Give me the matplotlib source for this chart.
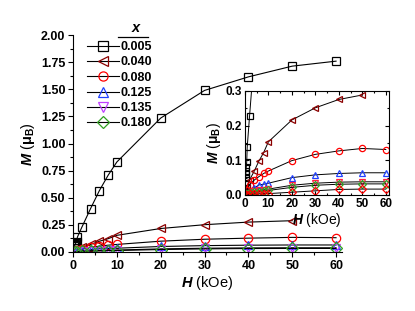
import numpy as np
import matplotlib
matplotlib.use('Agg')
from matplotlib import pyplot as plt
from matplotlib.ticker import MultipleLocator

plt.rcParams['font.family'] = ['Liberation Sans', 'DejaVu Sans']
plt.rcParams['font.weight'] = 'bold'
plt.rcParams['mathtext.fontset'] = 'custom'
plt.rcParams['mathtext.it'] = 'Liberation Sans:bold:italic'
plt.rcParams['mathtext.rm'] = 'Liberation Sans:bold'

labels = ['0.005', '0.040', '0.080', '0.125', '0.135', '0.180']

H_005 = [0.1, 0.2, 0.3, 0.4, 0.5, 0.6, 0.8, 1, 2, 4, 6, 8, 10, 20, 30, 40, 50, 60]
M_005 = [0.02, 0.035, 0.05, 0.06, 0.07, 0.08, 0.095, 0.137, 0.227, 0.40, 0.565,
         0.707, 0.83, 1.235, 1.49, 1.615, 1.714, 1.76]

H_040 = [0.2, 0.5, 1, 2, 4, 6, 8, 10, 20, 30, 40, 50]
M_040 = [0.005, 0.012, 0.022, 0.043, 0.069, 0.098, 0.122, 0.153, 0.216, 0.251, 0.275, 0.288]

H_std = [0.5, 1, 2, 4, 6, 8, 10, 20, 30, 40, 50, 60]
M_080 = [0.007, 0.015, 0.03, 0.043, 0.053, 0.062, 0.069, 0.099, 0.117, 0.127, 0.134, 0.131]
M_125 = [0.003, 0.006, 0.01, 0.02, 0.029, 0.031, 0.034, 0.05, 0.058, 0.062, 0.064, 0.064]
M_135 = [0.002, 0.004, 0.007, 0.011, 0.013, 0.015, 0.017, 0.028, 0.034, 0.037, 0.038, 0.038]
M_180 = [0.001, 0.003, 0.005, 0.008, 0.01, 0.012, 0.013, 0.022, 0.028, 0.031, 0.032, 0.032]
M_low = [0.001, 0.001, 0.002, 0.003, 0.003, 0.004, 0.004, 0.008, 0.012, 0.016, 0.017, 0.017]

series = [
    (H_005, M_005, 's', 'black'),
    (H_040, M_040, '<', '#8b0000'),
    (H_std, M_080, 'o', '#ff0000'),
    (H_std, M_125, '^', '#2040ff'),
    (H_std, M_135, 'v', '#c040ff'),
    (H_std, M_180, 'D', '#30a020'),
]
inset_colors = ['black', '#8b0000', '#ff0000', '#2040ff', '#ff2040', '#30a020']

fig = plt.figure(figsize=(4.15, 3.11), dpi=100)
ax = fig.add_axes([0.176, 0.19, 0.6475, 0.697])

for (h, m, mk, c), lab in zip(series, labels):
    ax.plot(h, m, color='black', lw=0.8, marker=mk, ms=6, mfc='none',
            mec=c, mew=0.9, label=lab)

ax.set_xlim(0, 61.3)
ax.set_ylim(0, 2.0)
ax.xaxis.set_major_locator(MultipleLocator(10))
ax.xaxis.set_minor_locator(MultipleLocator(5))
ax.yaxis.set_major_locator(MultipleLocator(0.25))
ax.yaxis.set_minor_locator(MultipleLocator(0.125))
ax.spines['top'].set_visible(False)
ax.spines['right'].set_visible(False)
ax.tick_params(which='major', length=3.5, width=0.8, labelsize=9, pad=2)
ax.tick_params(which='minor', length=2, width=0.8)
ax.set_xlabel(r'$\mathit{H}$ (kOe)', fontsize=10.5, labelpad=2)
ax.set_ylabel(r'$\mathit{M}$ ($\mathrm{\mu_B}$)', fontsize=10.5, labelpad=3)

leg = ax.legend(loc='upper left', bbox_to_anchor=(0.035, 0.995), frameon=False,
                fontsize=9, handlelength=2.5, handletextpad=0.15,
                labelspacing=0.26, borderaxespad=0.0, markerscale=1.1)
ax.text(0.235, 1.0, r'$\mathit{x}$', transform=ax.transAxes, fontsize=10.5,
        ha='center', va='bottom')
ax.plot([0.167, 0.28], [0.99, 0.99], transform=ax.transAxes, color='black',
        lw=0.9, clip_on=False)

ins = fig.add_axes([0.590, 0.373, 0.347, 0.335])
for (h, m, mk, c), ic in zip(series, inset_colors):
    ins.plot(h, m, color='black', lw=0.7, marker=mk, ms=4.5, mfc='none',
             mec=ic, mew=0.9)
ins.plot(H_std, M_low, color='black', lw=0.7, marker='D', ms=4.5, mfc='none',
         mec='#ff0000', mew=0.9)

ins.set_xlim(0, 61.3)
ins.set_ylim(0, 0.3)
ins.xaxis.set_major_locator(MultipleLocator(10))
ins.xaxis.set_minor_locator(MultipleLocator(5))
ins.yaxis.set_major_locator(MultipleLocator(0.1))
ins.yaxis.set_minor_locator(MultipleLocator(0.05))
ins.tick_params(which='both', direction='in', top=True, right=True,
                labelsize=8.5, pad=2, width=0.8)
ins.tick_params(which='major', length=3)
ins.tick_params(which='minor', length=1.5)
ins.set_xlabel(r'$\mathit{H}$ (kOe)', fontsize=10, labelpad=1)
ins.set_ylabel(r'$\mathit{M}$ ($\mathrm{\mu_B}$)', fontsize=10, labelpad=2)

fig.savefig('out.png', dpi=100)
